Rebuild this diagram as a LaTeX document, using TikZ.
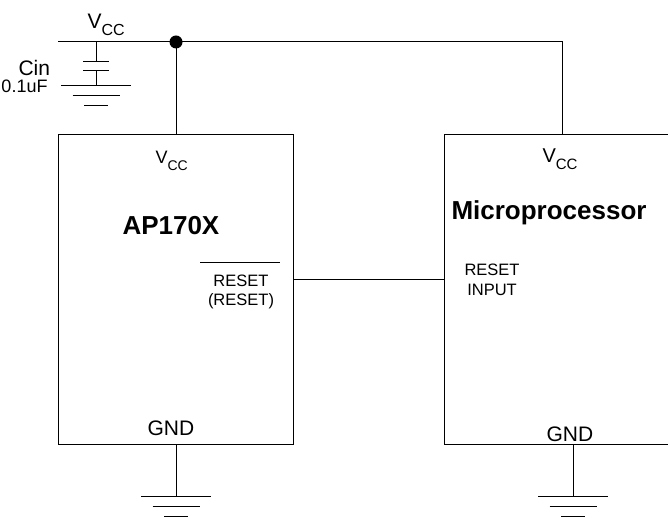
\documentclass[tikz,border=0pt]{standalone}
\usepackage{fontspec}
\setmainfont{Liberation Sans}
\usetikzlibrary{positioning}

\newcommand{\vccsub}[1]{V\raisebox{-6.5pt}{\fontsize{#1}{#1}\selectfont CC}}

\tikzset{
  chip/.style={draw, line width=1pt, inner sep=0pt, minimum height=309pt},
  lbl/.style={inner sep=0pt, font=\fontsize{21}{24}\selectfont},
  pinlbl/.style={inner sep=0pt, font=\fontsize{16.5}{19}\selectfont},
  partlbl/.style={inner sep=0pt, font=\bfseries\fontsize{26}{30}\selectfont},
  gnd/.pic={\draw (-35,0) -- (35,0) (-23.5,10) -- (23.5,10) (-12,20) -- (12,20);}
}

\begin{document}
\begin{tikzpicture}[x=1pt, y=-1pt, line width=1pt]
  \useasboundingbox (0,0) rectangle (668,518);

  % the two blocks
  \node[chip, minimum width=235pt] (ap) at (175.5,289.5) {};
  \node[chip, minimum width=226pt] (mcu) at (557,289.5) {};

  % supply rail
  \coordinate (vin) at (58,42);
  \coordinate (jn) at (176,42);
  \coordinate (capTop) at (96,42);
  \coordinate (railEnd) at (562,42);
  \draw (vin) -- (railEnd) -- (railEnd |- mcu.north);
  \draw (jn) -- (jn |- ap.north);
  \fill (jn) circle (6.5);
  \node[lbl, anchor=base west] (vcctop) at (87,29) {\vccsub{16}};

  % input capacitor
  \coordinate (plateA) at (96,62);
  \coordinate (plateB) at (96,71);
  \coordinate (capGnd) at (96,86);
  \draw (capTop) -- (plateA);
  \draw (plateB) -- (capGnd);
  \foreach \p in {plateA, plateB}
    \draw ([xshift=-13pt]\p) -- ([xshift=13pt]\p);
  \pic at (capGnd) {gnd};
  \node[lbl, anchor=base west] (cin) at (18,76) {Cin};
  \node[pinlbl, font=\fontsize{18}{20}\selectfont, anchor=base west] (cval) at (1,93) {0.1uF};

  % reset line
  \coordinate (rstA) at (ap.east |- 0,279);
  \coordinate (rstB) at (mcu.west |- 0,279);
  \draw (rstA) -- (rstB);

  % AP170X labels
  \node[lbl, font=\fontsize{18}{20}\selectfont, anchor=base west] (apvcc) at (155,164) {\vccsub{14}};
  \node[partlbl, anchor=base west] (apname) at (122,235) {AP170X};
  \draw (200,262) -- (280,262);
  \node[pinlbl, anchor=base] (aprst) at (241,286) {RESET};
  \node[pinlbl, anchor=base] (aprstb) at (241,305) {(RESET)};
  \node[lbl, anchor=base west] (apgnd) at (147,435) {GND};

  % Microprocessor labels
  \node[lbl, font=\fontsize{20}{22}\selectfont, anchor=base west] (mcuvcc) at (542,163) {\vccsub{15}};
  \node[partlbl, anchor=base west] (mcuname) at (451,220) {Microprocessor};
  \node[pinlbl, anchor=base] (mcurst) at (492,275) {RESET};
  \node[pinlbl, anchor=base] (mcuin) at (492,295) {INPUT};
  \node[lbl, anchor=base west] (mcugnd) at (546,441) {GND};

  % grounds
  \coordinate (apG) at (176,496);
  \coordinate (mcuG) at (573,496);
  \draw (apG |- ap.south) -- (apG);
  \draw (mcuG |- mcu.south) -- (mcuG);
  \foreach \g in {apG, mcuG}
    \pic at (\g) {gnd};
\end{tikzpicture}
\end{document}
